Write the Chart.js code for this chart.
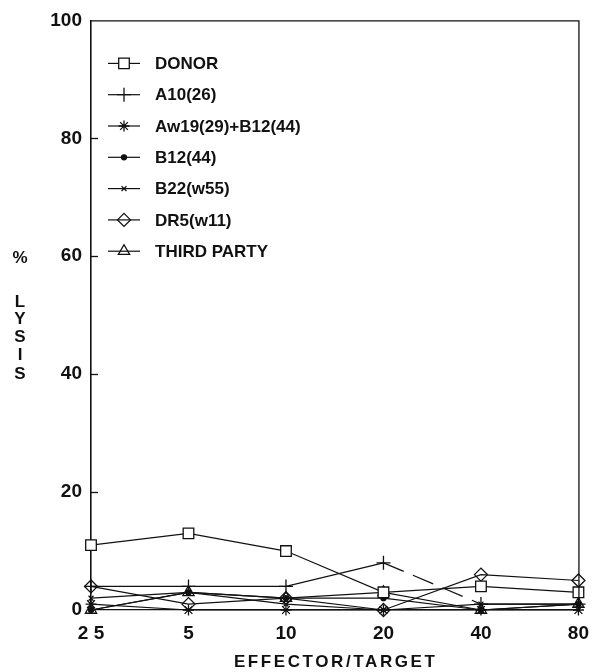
<!DOCTYPE html>
<html>
<head>
<meta charset="utf-8">
<title>% Lysis vs Effector/Target</title>
<script src="https://cdn.jsdelivr.net/npm/chart.js@4.4.1/dist/chart.umd.min.js"></script>
<style>
  html, body { margin: 0; padding: 0; background: #fff; }
  #wrap { width: 601px; height: 672px; }
</style>
</head>
<body>
<div id="wrap"><canvas id="c" width="601" height="672"></canvas></div>
<script>
// Effector/target ratios (tick text as printed on the axis)
const ratios = ['2 5', '5', '10', '20', '40', '80'];

// % lysis per target group
const donor      = [11, 13, 10, 3, 4, 3];
const a10        = [4, 4, 4, 8, 1, 1];
const aw19b12    = [1, 0, 0, 0, 0, 0];
const b12        = [0, 3, 2, 2, 0, 1];
const b22        = [2, 3, 1, 0, 1, 1];
const dr5        = [4, 1, 2, 0, 6, 5];
const thirdParty = [0, 3, 2, 3, 0, 1];

const seriesNames = ['DONOR', 'A10(26)', 'Aw19(29)+B12(44)', 'B12(44)', 'B22(w55)', 'DR5(w11)', 'THIRD PARTY'];

const yTicks = [0, 20, 40, 60, 80, 100];

const INK = '#111111';
const FONT = '"Liberation Sans", Arial, Helvetica, sans-serif';

function series(label, data, style, radius, fill, extra) {
  return Object.assign({
    label, data,
    borderColor: INK,
    borderWidth: 1.2,
    pointStyle: style,
    pointRadius: radius,
    pointHoverRadius: radius,
    pointBorderColor: INK,
    pointBorderWidth: 1.3,
    pointBackgroundColor: fill,
    tension: 0,
    clip: false
  }, extra || {});
}

const datasets = [
  series(seriesNames[0], donor, 'rect', 7.5, '#ffffff'),
  series(seriesNames[1], a10, 'cross', 7, 'rgba(0,0,0,0)', {
    segment: { borderDash: ctx => ctx.p0DataIndex === 3 ? [22, 10] : undefined }
  }),
  series(seriesNames[2], aw19b12, 'star', 5.5, 'rgba(0,0,0,0)'),
  series(seriesNames[3], b12, 'circle', 2.5, INK),
  series(seriesNames[4], b22, 'crossRot', 3.5, 'rgba(0,0,0,0)'),
  series(seriesNames[5], dr5, 'rectRot', 6.5, 'rgba(0,0,0,0)'),
  series(seriesNames[6], thirdParty, 'triangle', 6.5, 'rgba(0,0,0,0)')
];

// Frame, inward y ticks, axis titles and the in-plot legend
const decorations = {
  id: 'decorations',
  afterDraw(chart) {
    const ctx = chart.ctx;
    const area = chart.chartArea;
    const y = chart.scales.y;
    ctx.save();

    // top and right edges of the frame
    ctx.strokeStyle = INK;
    ctx.lineWidth = 1.3;
    ctx.beginPath();
    ctx.moveTo(area.left, area.top + 0.5);
    ctx.lineTo(area.right + 0.5, area.top + 0.5);
    ctx.lineTo(area.right + 0.5, area.bottom);
    ctx.stroke();

    // short tick marks pointing into the plot
    yTicks.forEach(v => {
      if (v === 0 || v === 100) return;
      const py = Math.round(y.getPixelForValue(v)) + 0.5;
      ctx.beginPath();
      ctx.moveTo(area.left, py);
      ctx.lineTo(area.left + 7, py);
      ctx.stroke();
    });

    // y-axis title: "%" then LYSIS stacked letter by letter
    ctx.fillStyle = INK;
    ctx.font = 'bold 17px ' + FONT;
    ctx.textAlign = 'center';
    ctx.textBaseline = 'middle';
    ctx.fillText('%', 20, y.getPixelForValue(60) + 2);
    const letters = ['L', 'Y', 'S', 'I', 'S'];
    const letterY = [302, 319, 337, 355, 374];
    letters.forEach((ch, i) => ctx.fillText(ch, 20, letterY[i]));

    // x-axis title, letter-spaced
    if ('letterSpacing' in ctx) ctx.letterSpacing = '2.6px';
    ctx.fillText('EFFECTOR/TARGET', (area.left + area.right) / 2 + 1, 662);
    if ('letterSpacing' in ctx) ctx.letterSpacing = '0px';

    // legend inside the plot, top left
    const drawPoint = Chart.helpers && Chart.helpers.drawPoint;
    const x0 = area.left + 17, x1 = area.left + 49, xm = (x0 + x1) / 2;
    chart.data.datasets.forEach((ds, i) => {
      const ry = area.top + 43 + i * 31.3;
      ctx.strokeStyle = INK;
      ctx.lineWidth = 1.2;
      ctx.setLineDash([]);
      ctx.beginPath();
      ctx.moveTo(x0, ry);
      ctx.lineTo(x1, ry);
      ctx.stroke();
      if (drawPoint) {
        ctx.fillStyle = ds.pointBackgroundColor;
        ctx.lineWidth = ds.pointBorderWidth;
        drawPoint(ctx, {
          pointStyle: ds.pointStyle,
          rotation: 0,
          radius: ds.pointRadius,
          borderWidth: ds.pointBorderWidth
        }, xm, ry);
      }
      ctx.fillStyle = INK;
      ctx.font = 'bold 17px ' + FONT;
      ctx.textAlign = 'left';
      ctx.textBaseline = 'middle';
      ctx.fillText(ds.label, area.left + 64, ry + 1);
    });

    ctx.restore();
  }
};

new Chart(document.getElementById('c'), {
  type: 'line',
  data: { labels: ratios, datasets },
  options: {
    responsive: false,
    animation: false,
    devicePixelRatio: 1,
    layout: { padding: { top: 18, right: 19, left: 0, bottom: 0 } },
    plugins: { legend: { display: false }, tooltip: { enabled: false } },
    scales: {
      x: {
        type: 'category',
        offset: false,
        grid: { display: false, drawTicks: false },
        border: { display: true, color: INK, width: 1.2 },
        ticks: {
          color: INK,
          padding: 12,
          maxRotation: 0,
          autoSkip: false,
          font: { family: FONT, size: 19, weight: 'bold' }
        },
        afterFit(scale) { scale.height = 62; }
      },
      y: {
        min: 0,
        max: 100,
        grid: { display: false, drawTicks: false },
        border: { display: true, color: INK, width: 1.6 },
        ticks: {
          stepSize: 20,
          color: INK,
          padding: 9,
          font: { family: FONT, size: 19, weight: 'bold' }
        },
        afterFit(scale) { scale.width = 91; }
      }
    }
  },
  plugins: [decorations]
});
</script>
</body>
</html>
